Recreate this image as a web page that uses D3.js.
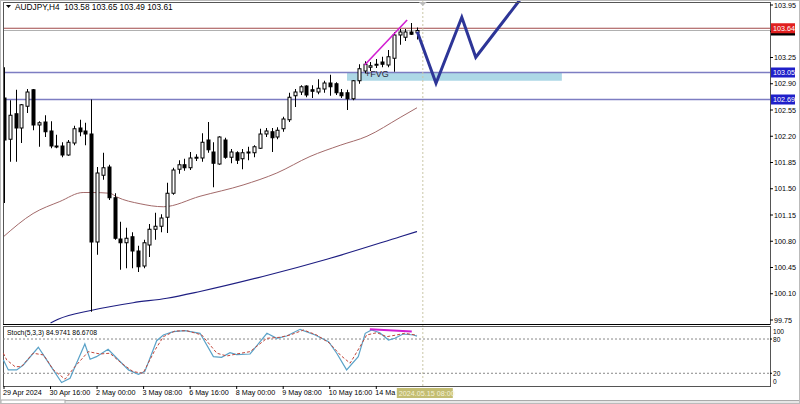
<!DOCTYPE html>
<html><head><meta charset="utf-8">
<script src="https://cdn.jsdelivr.net/npm/d3@7"></script>
<style>html,body{margin:0;padding:0;background:#fff;} svg{display:block;font-family:"Liberation Sans",Arial,sans-serif;}</style>
</head><body>
<svg id="c" width="800" height="404"></svg>
<script>
// ---------- DATA ----------
const symbolTitle = "AUDJPY,H4";
const lastOHLC = ["103.58","103.65","103.49","103.61"];
const tickLabels = ["29 Apr 2024","30 Apr 16:00","2 May 00:00","3 May 08:00","6 May 16:00","8 May 00:00","9 May 08:00","10 May 16:00","14 May 00:00"];
const tickBars = [0,8,16,24,32,40,48,56,64];
const cursorLabel = "2024.05.15 08:00";
const cursorBar = 72;
const priceTicks = [103.95,103.60,103.25,102.90,102.55,102.20,101.85,101.50,101.15,100.80,100.45,100.10,99.75];
const hiddenTick = 103.60; // covered by the price boxes in the reference

const open  = [102.71,102.16,102.50,102.31,102.60,102.82,102.35,102.39,102.27,102.07,102.07,101.95,102.11,102.31,102.27,102.23,100.79,101.68,101.79,101.38,100.83,100.78,100.86,100.67,100.47,100.75,100.96,101.00,101.12,101.44,101.76,101.82,101.78,101.91,101.91,102.15,101.99,101.83,102.15,101.92,101.98,101.90,101.98,101.98,102.04,102.23,102.26,102.19,102.30,102.42,102.74,102.79,102.87,102.82,102.79,102.83,102.91,102.90,102.78,102.78,102.70,102.94,103.07,103.12,103.15,103.19,103.15,103.24,103.55,103.52,103.59,103.58];
const high  = [103.12,102.68,102.82,102.63,102.83,102.83,102.40,102.48,102.40,102.22,102.12,102.15,102.34,102.42,102.38,102.69,101.79,101.98,101.82,101.44,101.06,100.98,100.92,100.74,100.82,101.03,101.18,101.16,101.58,101.78,101.88,101.90,101.99,101.96,102.24,102.39,102.12,102.20,102.18,102.03,102.00,102.03,102.06,102.08,102.30,102.31,102.31,102.32,102.46,102.78,102.83,102.88,102.88,102.88,102.96,102.94,103.02,102.92,102.83,102.82,102.95,103.16,103.20,103.19,103.23,103.26,103.35,103.59,103.63,103.63,103.71,103.65];
const low   = [101.31,101.86,101.86,102.11,102.51,102.28,102.06,102.19,102.04,102.04,101.92,101.94,102.08,102.20,102.08,99.86,100.62,101.62,101.35,100.82,100.42,100.44,100.44,100.39,100.44,100.59,100.82,100.92,100.91,101.42,101.70,101.74,101.75,101.87,101.86,101.98,101.52,101.82,101.90,101.84,101.83,101.76,101.88,101.92,102.03,102.19,101.99,102.16,102.26,102.39,102.59,102.75,102.72,102.71,102.76,102.78,102.74,102.75,102.71,102.55,102.68,102.90,103.04,103.07,103.11,103.12,103.12,103.06,103.42,103.47,103.55,103.49];
const close = [102.15,102.48,102.31,102.62,102.79,102.35,102.38,102.26,102.07,102.06,101.95,102.12,102.30,102.26,102.23,100.79,101.71,101.78,101.38,100.84,100.78,100.84,100.67,100.46,100.78,100.96,101.00,101.11,101.44,101.75,101.82,101.78,101.91,101.92,102.12,102.02,101.84,102.19,101.92,101.99,101.88,101.98,101.99,102.06,102.23,102.27,102.18,102.28,102.43,102.72,102.79,102.86,102.75,102.80,102.84,102.91,102.86,102.78,102.74,102.70,102.94,103.10,103.16,103.14,103.16,103.16,103.26,103.55,103.59,103.59,103.56,103.61];

// moving averages (bar index, price)
const maSlowBars   = [-0.1,5.0,9.6,13.6,15.1,18.2,19.4,23.4,27.4,33.7,41.1,46.9,52.6,57.8,62.4,68.1,71];
const maSlowValues = [100.86,101.17,101.33,101.45,101.45,101.44,101.39,101.30,101.26,101.40,101.55,101.71,101.93,102.08,102.20,102.45,102.58];
const maLongBars   = [8.0,9.3,15.1,22.2,28.0,33.7,44.5,55.5,68.1,71];
const maLongValues = [99.71,99.76,99.88,99.98,100.04,100.13,100.33,100.56,100.86,100.93];

// horizontal levels
const resistanceLevel = 103.64;
const bidLevel = 103.61;
const supportLevels = [103.05, 102.69];
// fair value gap zone
const fvgBars = [58.97, 95.9];
const fvgPrices = [103.05, 102.94];
const fvgText = "+FVG";
// magenta trend line on price
const trendBars = [62, 69.3];
const trendPrices = [103.15, 103.75];
// projected path
const projBars = [71.05, 74.27, 78.7, 81.1, 89.5];
const projPrices = [103.594, 102.906, 103.786, 103.253, 104.10];

// stochastic
const stochTitle = "Stoch(5,3,3) 84.9741 86.6708";
const stochKBars = [-0.1,0.74,2.18,3.32,5.9,7.9,9.9,11.35,13.9,14.8,15.9,17.9,19.4,21.4,23.1,24.2,26.25,27.4,29.1,31.1,33.7,36,37.4,38.85,40,42.3,45.2,46.9,48.6,50.9,53.5,55.8,57.2,58.9,60.9,62.1,63.2,64.6,66.1,67.2,68.6,70.4,71];
const stochKValues = [43.4,25.9,25.9,34.6,65.6,34.6,3.7,11.3,71.3,44.6,49.1,62.1,46.3,25.9,18.3,22.9,77.1,87.1,92.8,94.6,90,49.1,48,56.1,52.6,53.8,90,81.3,85.3,97,87.1,75.3,55.1,25.9,49.1,90,95.8,91.1,78.3,81.3,88.8,87.1,85.0];
const stochDBars = [-0.1,0.46,1.9,3.0,5.0,6.8,8.5,10.5,12.2,14.5,16.5,18.2,20.2,22.2,23.9,25.96,27.4,29.4,31.4,34.0,36.6,38.3,40,42.3,45.2,47.4,49.2,51.5,53.75,56.0,57.8,59.5,61.2,62.35,64.1,65.8,67.5,68.9,70.7,71];
const stochDValues = [55.1,43.4,31.6,31.6,55.1,52.1,25.9,9.6,31.6,57.9,53.8,55.1,37.6,22.9,20.1,60.8,84.1,94,94.6,87.1,55.1,50.3,53.8,57.9,81.3,83,87.1,95.8,87.1,72.5,52.1,37.6,66.6,87.1,91.1,84.1,87.1,90,87.1,86.7];
const stochLevels = [80, 20];
const stochAxisLabels = [100, 80, 20, 0];
const stochTrendBars = [62.9, 70.1];
const stochTrendValues = [97, 93];

// ---------- DRAW ----------
const svg = d3.select("#c");
const W = 800, H = 404;
const plotL = 3, plotR = 770, mainT = 2, mainB = 324, stT = 326, stB = 386;

const x = d3.scaleLinear().domain([0, 71]).range([4, 417]);
const y = d3.scaleLinear().domain([99.75, 103.95]).range([320, 5]);
const ys = d3.scaleLinear().domain([0, 100]).range([384.7, 327.6]);

svg.append("rect").attr("width", W).attr("height", H).attr("fill", "#ffffff");

const defs = svg.append("defs");
defs.append("clipPath").attr("id","mainClip").append("rect")
  .attr("x", plotL).attr("y", mainT).attr("width", plotR-plotL).attr("height", mainB-mainT);
defs.append("clipPath").attr("id","stClip").append("rect")
  .attr("x", plotL).attr("y", stT).attr("width", plotR-plotL).attr("height", stB-stT);

const main = svg.append("g").attr("clip-path","url(#mainClip)");

// cursor dotted vertical
svg.append("line").attr("x1", x(cursorBar)).attr("x2", x(cursorBar))
  .attr("y1", 0).attr("y2", stB).attr("stroke", "#c9c7a6").attr("stroke-width", 1)
  .attr("stroke-dasharray", "2,2");

// FVG zone
main.append("rect")
  .attr("x", x(fvgBars[0])).attr("width", x(fvgBars[1]) - x(fvgBars[0]))
  .attr("y", y(fvgPrices[0])).attr("height", y(fvgPrices[1]) - y(fvgPrices[0]))
  .attr("fill", "#add8e6");

// levels
main.append("line").attr("x1", plotL).attr("x2", plotR).attr("y1", y(resistanceLevel)).attr("y2", y(resistanceLevel))
  .attr("stroke", "#a04a4a").attr("stroke-width", 1.2);
main.append("line").attr("x1", plotL).attr("x2", plotR).attr("y1", y(bidLevel)).attr("y2", y(bidLevel))
  .attr("stroke", "#b0b0b0").attr("stroke-width", 1);
main.selectAll(".lvl").data(supportLevels).join("line")
  .attr("x1", plotL).attr("x2", plotR).attr("y1", d => y(d)).attr("y2", d => y(d))
  .attr("stroke", "#7d7dc2").attr("stroke-width", 1.7);

// moving averages
const lineGen = (xs, vs, sx, sy) => d3.line().curve(d3.curveMonotoneX)
  .x((d,i) => sx(xs[i])).y((d,i) => sy(vs[i]))(vs);
main.append("path").attr("d", lineGen(maSlowBars, maSlowValues, x, y))
  .attr("fill","none").attr("stroke","#a36a6a").attr("stroke-width",1);
main.append("path").attr("d", lineGen(maLongBars, maLongValues, x, y))
  .attr("fill","none").attr("stroke","#1e1e82").attr("stroke-width",1.2);

// candles
const idx = d3.range(close.length);
const bw = 3;
main.selectAll(".wick").data(idx).join("line")
  .attr("x1", i => Math.round(x(i)) + 0.5).attr("x2", i => Math.round(x(i)) + 0.5)
  .attr("y1", i => y(high[i])).attr("y2", i => y(low[i]))
  .attr("stroke", "#000").attr("stroke-width", 1);
main.selectAll(".body").data(idx).join("rect")
  .attr("x", i => Math.round(x(i)) - 1)
  .attr("y", i => y(Math.max(open[i], close[i])))
  .attr("width", bw)
  .attr("height", i => Math.max(1, Math.abs(y(open[i]) - y(close[i]))))
  .attr("fill", i => close[i] >= open[i] ? "#ffffff" : "#000000")
  .attr("stroke", "#000").attr("stroke-width", 1);

// magenta trend line
main.append("line").attr("x1", x(trendBars[0])).attr("y1", y(trendPrices[0]))
  .attr("x2", x(trendBars[1])).attr("y2", y(trendPrices[1]))
  .attr("stroke", "#d21fd2").attr("stroke-width", 1.6);

// FVG text
main.append("text").attr("x", x(fvgBars[0]) + 18).attr("y", y(fvgPrices[0]) + 4)
  .attr("font-size", 9).attr("fill", "#2a2a3a").text(fvgText);

// projected path (not clipped at top)
svg.append("path").attr("d", d3.line().x((d,i) => x(projBars[i])).y(d => y(d))(projPrices))
  .attr("fill","none").attr("stroke","#2d3597").attr("stroke-width",3).attr("stroke-linejoin","miter");

// panel frames
svg.append("rect").attr("x", plotL + 0.5).attr("y", mainT + 0.5).attr("width", plotR - plotL).attr("height", mainB - mainT)
  .attr("fill","none").attr("stroke","#555").attr("stroke-width",1);
svg.append("rect").attr("x", plotL + 0.5).attr("y", stT + 0.5).attr("width", plotR - plotL).attr("height", stB - stT)
  .attr("fill","none").attr("stroke","#555").attr("stroke-width",1);
svg.append("line").attr("x1", plotL).attr("x2", plotR).attr("y1", mainB + 0.5).attr("y2", mainB + 0.5).attr("stroke", "#000");

// cursor marker at top
svg.append("path").attr("d", `M${x(cursorBar)-4},2 L${x(cursorBar)+4},2 L${x(cursorBar)},6 Z`).attr("fill","#bbb");

// price axis
const pa = svg.append("g");
pa.selectAll(".pt").data(priceTicks).join("line")
  .attr("x1", plotR).attr("x2", plotR + 3).attr("y1", d => y(d)).attr("y2", d => y(d)).attr("stroke","#000");
pa.selectAll(".pl").data(priceTicks.filter(d => d !== hiddenTick)).join("text")
  .attr("x", plotR + 4).attr("y", d => y(d) + 2.5).attr("font-size", 7.2).attr("fill","#000")
  .text(d => d.toFixed(2));

function priceBox(price, fill, txt) {
  const g = svg.append("g");
  g.append("rect").attr("x", plotR + 1).attr("y", y(price) - 5).attr("width", 24).attr("height", 10).attr("fill", fill);
  if (txt) g.append("text").attr("x", plotR + 3).attr("y", y(price) + 2.5).attr("font-size", 7.2).attr("fill", "#fff").text(txt);
}
priceBox(bidLevel, "#000000", null);
priceBox(resistanceLevel, "#e11f1f", resistanceLevel.toFixed(2));
supportLevels.forEach(p => priceBox(p, "#1f1fc9", p.toFixed(2)));

// title
svg.append("path").attr("d", "M6,5 L11,5 L8.5,8 Z").attr("fill","#000");
svg.append("text").attr("x", 15).attr("y", 9.8).attr("font-size", 8.3).attr("fill","#000")
  .style("white-space","pre")
  .text(symbolTitle + "  " + lastOHLC.join(" "));

// stochastic panel
const st = svg.append("g").attr("clip-path","url(#stClip)");
st.selectAll(".sl").data(stochLevels).join("line")
  .attr("x1", plotL).attr("x2", plotR).attr("y1", d => ys(d)).attr("y2", d => ys(d))
  .attr("stroke","#888").attr("stroke-dasharray","2,2");
st.append("path").attr("d", d3.line().x((d,i) => x(stochKBars[i])).y(d => ys(d))(stochKValues))
  .attr("fill","none").attr("stroke","#5aa2c8").attr("stroke-width",1.2);
st.append("path").attr("d", d3.line().x((d,i) => x(stochDBars[i])).y(d => ys(d))(stochDValues))
  .attr("fill","none").attr("stroke","#c2483c").attr("stroke-width",1).attr("stroke-dasharray","3,2");
st.append("line").attr("x1", x(stochTrendBars[0])).attr("y1", ys(stochTrendValues[0]))
  .attr("x2", x(stochTrendBars[1])).attr("y2", ys(stochTrendValues[1]))
  .attr("stroke","#d21fd2").attr("stroke-width",2);
st.append("text").attr("x", 7).attr("y", 335).attr("font-size", 6.8).attr("fill","#000").text(stochTitle);

const labelOffsets = {100: 4, 80: 1, 20: 0, 0: -3};
svg.selectAll(".stl").data(stochAxisLabels).join("text")
  .attr("x", plotR + 3).attr("y", d => ys(d) + 2.4 + labelOffsets[d]).attr("font-size", 6.6).attr("fill","#000")
  .text(d => d);
svg.selectAll(".stt").data([80,20]).join("line")
  .attr("x1", plotR).attr("x2", plotR + 2).attr("y1", d => ys(d)).attr("y2", d => ys(d)).attr("stroke","#000");

// time axis: labels running under the cursor box are cut where the box starts (as in the terminal)
const cursorBoxX = x(cursorBar) - 26;
svg.selectAll(".tl").data(tickLabels).join("text")
  .attr("x", (d,i) => x(tickBars[i]) - 1).attr("y", 395).attr("font-size", 7.2).attr("fill","#000")
  .text(d => d)
  .each(function(d) {
    const t = d3.select(this);
    let s = d;
    while (s.length > 1 && this.getBBox().x + this.getBBox().width > cursorBoxX - 0.5) {
      s = s.slice(0, -1);
      t.text(s);
    }
  });
svg.selectAll(".tt").data(tickBars).join("line")
  .attr("x1", d => x(d)).attr("x2", d => x(d)).attr("y1", stB).attr("y2", stB + 3).attr("stroke","#000");

// cursor time box
svg.append("rect").attr("x", cursorBoxX).attr("y", 388).attr("width", 56).attr("height", 10).attr("fill","#c3bd72");
svg.append("text").attr("x", cursorBoxX + 2).attr("y", 395.5).attr("font-size", 7.2).attr("fill","#f4f2d8").text(cursorLabel);

// bottom tab strip
svg.append("rect").attr("x", 0).attr("y", 400).attr("width", W).attr("height", 4).attr("fill","#e6e6e6");
svg.append("line").attr("x1", 0).attr("x2", W).attr("y1", 400.5).attr("y2", 400.5).attr("stroke","#aaa");
svg.append("rect").attr("x", 1).attr("y", 400).attr("width", 64).attr("height", 4).attr("fill","#fff").attr("stroke","#aaa");
// outer frame
svg.append("rect").attr("x", 0.5).attr("y", 0.5).attr("width", W - 1).attr("height", H - 1).attr("fill","none").attr("stroke","#bbb");
</script>
</body></html>
